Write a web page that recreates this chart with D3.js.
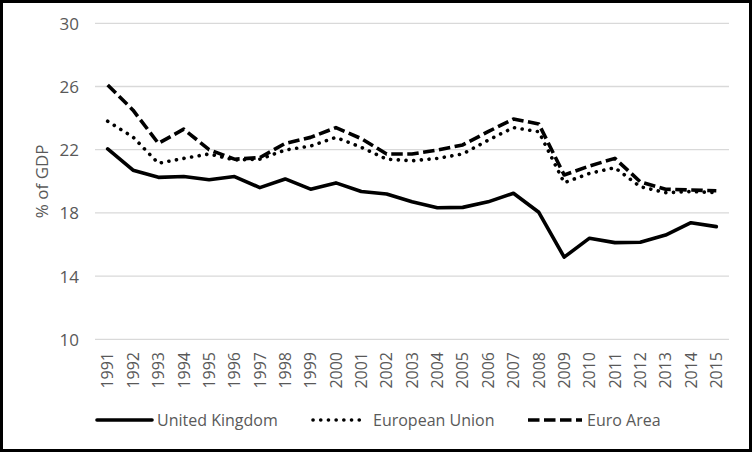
<!DOCTYPE html>
<html>
<head>
<meta charset="utf-8">
<script src="https://cdn.jsdelivr.net/npm/d3@7"></script>
<style>
  html, body { margin: 0; padding: 0; background: #fff; }
  svg { display: block; }
  text { font-family: "Open Sans", "Noto Sans", sans-serif; fill: #595959; }
</style>
</head>
<body>
<svg id="chart" width="752" height="452"></svg>
<script>
const years = ["1991","1992","1993","1994","1995","1996","1997","1998","1999","2000","2001","2002","2003","2004","2005","2006","2007","2008","2009","2010","2011","2012","2013","2014","2015"];
const unitedKingdom = [22.05,20.7,20.25,20.3,20.1,20.3,19.6,20.15,19.5,19.9,19.35,19.2,18.7,18.33,18.35,18.7,19.24,18.04,15.2,16.4,16.12,16.14,16.6,17.38,17.13];
const europeanUnion = [23.8,22.8,21.14,21.45,21.73,21.35,21.4,21.98,22.23,22.78,22.15,21.4,21.3,21.45,21.73,22.6,23.4,23.14,19.91,20.5,20.86,19.66,19.28,19.35,19.28];
const euroArea = [26.1,24.5,22.4,23.3,22.0,21.4,21.5,22.4,22.78,23.4,22.7,21.73,21.73,21.98,22.3,23.14,23.94,23.63,20.4,20.97,21.45,19.97,19.5,19.45,19.4];
const yTicks = [10,14,18,22,26,30];
const seriesNames = ["United Kingdom","European Union","Euro Area"];

const svg = d3.select("#chart");
const x = d3.scaleBand().domain(years).range([95, 729]).padding(0);
const y = d3.scaleLinear().domain([10, 30]).range([339.3, 23.3]);

// gridlines
svg.append("g").selectAll("line").data(yTicks).join("line")
  .attr("x1", 95).attr("x2", 729)
  .attr("y1", d => y(d)).attr("y2", d => y(d))
  .attr("stroke", "#d9d9d9").attr("stroke-width", 1.3);

// y axis labels
const yAxis = d3.axisLeft(y).tickValues(yTicks).tickSize(0).tickPadding(0);
const gy = svg.append("g").attr("transform", "translate(79,0)").call(yAxis);
gy.select(".domain").remove();
gy.selectAll("text").attr("font-size", 17).attr("fill", "#595959")
  .style("font-family", '"Open Sans", sans-serif').attr("dy", "0.35em");

// x axis labels
const xAxis = d3.axisBottom(x).tickSize(0).tickPadding(0);
const gx = svg.append("g").attr("transform", "translate(0,352)").call(xAxis);
gx.select(".domain").remove();
gx.selectAll("text")
  .attr("font-size", 16).attr("fill", "#595959")
  .style("font-family", '"Open Sans", sans-serif')
  .attr("text-anchor", "end")
  .attr("transform", "rotate(-90)")
  .attr("x", 0).attr("y", 0).attr("dy", "0.36em");

// y title
svg.append("text")
  .attr("transform", `translate(48,${y(20)}) rotate(-90)`)
  .attr("text-anchor", "middle")
  .attr("font-size", 17)
  .text("% of GDP");

const styles = [
  { dash: null, cap: "round" },
  { dash: "0.1,7.6", cap: "round" },
  { dash: "11.5,4.5", cap: "butt" }
];
const data = [unitedKingdom, europeanUnion, euroArea];
const line = d3.line().x((d, i) => x(years[i]) + x.bandwidth() / 2).y(d => y(d));

data.forEach((vals, k) => {
  svg.append("path")
    .datum(vals)
    .attr("d", line)
    .attr("fill", "none")
    .attr("stroke", "#000")
    .attr("stroke-width", 3.6)
    .attr("stroke-linejoin", "round")
    .attr("stroke-linecap", styles[k].cap)
    .attr("stroke-dasharray", styles[k].dash);
});

// legend
const legendItems = [
  { x1: 97, x2: 152, tx: 157 },
  { x1: 313, x2: 363, tx: 373 },
  { x1: 528, x2: 582, tx: 587 }
];
legendItems.forEach((it, k) => {
  svg.append("line")
    .attr("x1", it.x1).attr("x2", it.x2).attr("y1", 420).attr("y2", 420)
    .attr("stroke", "#000").attr("stroke-width", 3.6)
    .attr("stroke-linecap", styles[k].cap)
    .attr("stroke-dasharray", styles[k].dash);
  svg.append("text")
    .attr("x", it.tx).attr("y", 420).attr("dy", "0.35em")
    .attr("font-size", 16)
    .text(seriesNames[k]);
});

// border
svg.append("rect").attr("x", 1.5).attr("y", 1.5).attr("width", 749).attr("height", 449)
  .attr("fill", "none").attr("stroke", "#000").attr("stroke-width", 3);
</script>
</body>
</html>
